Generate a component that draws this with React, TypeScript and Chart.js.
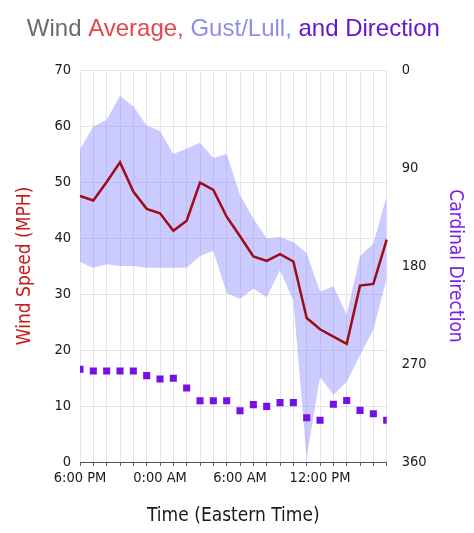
import React, { useEffect, useRef } from 'react';
import { Chart, registerables } from 'chart.js';

Chart.register(...registerables);

const hourLabels = [
  '6:00 PM', '7:00 PM', '8:00 PM', '9:00 PM', '10:00 PM', '11:00 PM',
  '0:00 AM', '1:00 AM', '2:00 AM', '3:00 AM', '4:00 AM', '5:00 AM',
  '6:00 AM', '7:00 AM', '8:00 AM', '9:00 AM', '10:00 AM', '11:00 AM',
  '12:00 PM', '1:00 PM', '2:00 PM', '3:00 PM', '4:00 PM', '5:00 PM',
];

const avgSpeed = [47.5, 46.7, 50.0, 53.5, 48.3, 45.2, 44.4, 41.3, 43.1, 49.9, 48.6, 43.8,
  40.3, 36.7, 35.9, 37.1, 35.8, 25.7, 23.7, 22.4, 21.1, 31.5, 31.8, 39.7];

const gustSpeed = [55.8, 59.9, 61.1, 65.4, 63.5, 60.1, 59.1, 55.0, 56.0, 57.0, 54.3, 55.0,
  47.7, 43.5, 39.9, 40.2, 39.3, 37.3, 30.4, 31.4, 26.3, 36.8, 39.0, 47.5];

const lullSpeed = [35.7, 34.7, 35.3, 35.0, 35.0, 34.7, 34.7, 34.7, 34.7, 36.8, 37.7, 30.2,
  29.1, 31.0, 29.4, 34.3, 28.8, 0.7, 15.2, 12.0, 14.3, 19.1, 23.6, 32.8];

const direction = [274.9, 276.4, 276.4, 276.4, 276.4, 280.7, 283.8, 283.1, 292.0, 303.7, 303.7, 303.7,
  312.9, 307.3, 308.9, 305.5, 305.5, 319.3, 321.6, 306.9, 303.5, 312.6, 315.7, 321.6];

const titleParts = [
  { text: 'Wind ', color: '#6b6b6b' },
  { text: 'Average, ', color: '#e2474b' },
  { text: 'Gust/Lull, ', color: '#8e8ee8' },
  { text: 'and Direction', color: '#6516d4' },
];

const axisFont = "'DejaVu Sans Condensed', 'DejaVu Sans', Verdana, sans-serif";

const multiTitlePlugin = {
  id: 'multiTitle',
  afterDraw(chart: any) {
    const ctx = chart.ctx;
    const area = chart.chartArea;
    ctx.save();
    ctx.font = "24px 'Liberation Sans', Arial, sans-serif";
    ctx.textBaseline = 'alphabetic';
    ctx.textAlign = 'left';
    const total = titleParts.reduce((s, p) => s + ctx.measureText(p.text).width, 0);
    let x = (area.left + area.right) / 2 - total / 2;
    for (const p of titleParts) {
      ctx.fillStyle = p.color;
      ctx.fillText(p.text, x, 36);
      x += ctx.measureText(p.text).width;
    }
    ctx.restore();
  },
};

export default function App() {
  const canvasRef = useRef<HTMLCanvasElement | null>(null);

  useEffect(() => {
    if (!canvasRef.current) return;
    const chart = new Chart(canvasRef.current, {
      type: 'line',
      data: {
        labels: hourLabels,
        datasets: [
          {
            label: 'Average',
            data: avgSpeed,
            yAxisID: 'y',
            borderColor: '#9e0c16',
            borderWidth: 2.5,
            pointRadius: 0,
            fill: false,
            tension: 0,
          },
          {
            label: 'Direction',
            data: direction,
            yAxisID: 'y2',
            showLine: false,
            pointStyle: 'rect',
            pointRadius: 5,
            pointBackgroundColor: '#7710e4',
            pointBorderColor: '#7710e4',
            pointBorderWidth: 0,
            clip: 0,
          },
          {
            label: 'Gust',
            data: gustSpeed,
            yAxisID: 'y',
            borderWidth: 0,
            pointRadius: 0,
            backgroundColor: 'rgba(140,140,255,0.45)',
            fill: '+1',
            tension: 0,
          },
          {
            label: 'Lull',
            data: lullSpeed,
            yAxisID: 'y',
            borderWidth: 0,
            pointRadius: 0,
            fill: false,
            tension: 0,
          },
        ],
      },
      options: {
        responsive: false,
        animation: false,
        layout: { padding: { top: 70, left: 0, right: 0, bottom: 0 } },
        plugins: {
          legend: { display: false },
          title: { display: false },
          tooltip: { enabled: false },
        },
        scales: {
          x: {
            type: 'category',
            offset: false,
            afterFit: (scale: any) => { scale.height = 71; },
            grid: {
              color: '#e4e4ea',
              tickLength: 4,
              tickColor: '#666',
            },
            border: { display: true, color: '#555', width: 1 },
            ticks: {
              autoSkip: false,
              maxRotation: 0,
              padding: 4,
              color: '#1a1a1a',
              font: { family: axisFont, size: 14.5 },
              callback: (_v: any, i: number) => (i % 6 === 0 ? hourLabels[i] : ''),
            },
            title: {
              display: true,
              text: 'Time (Eastern Time)',
              color: '#1a1a1a',
              font: { family: axisFont, size: 19 },
              padding: { top: 0, bottom: 6 },
            },
          },
          y: {
            position: 'left',
            min: 0,
            max: 70,
            afterFit: (scale: any) => { scale.width = 80; },
            grid: { color: '#e4e4ea', drawTicks: false },
            border: { display: false },
            ticks: {
              stepSize: 10,
              padding: 9,
              color: '#1a1a1a',
              font: { family: axisFont, size: 14.5 },
            },
            title: {
              display: true,
              text: 'Wind Speed (MPH)',
              color: '#cc1b1b',
              font: { family: axisFont, size: 19 },
              padding: { top: 14, bottom: 0 },
            },
          },
          y2: {
            position: 'right',
            min: 0,
            max: 360,
            reverse: true,
            afterFit: (scale: any) => { scale.width = 474 - 386.7; },
            grid: { display: false, drawTicks: false },
            border: { display: false },
            ticks: {
              stepSize: 90,
              padding: 15,
              color: '#1a1a1a',
              font: { family: axisFont, size: 14.5 },
            },
            title: {
              display: true,
              text: 'Cardinal Direction',
              color: '#7a1fe6',
              font: { family: axisFont, size: 19 },
              padding: { top: 8, bottom: 0 },
            },
          },
        },
      } as any,
      plugins: [multiTitlePlugin],
    });
    return () => chart.destroy();
  }, []);

  return (
    <div style={{ position: 'fixed', left: 0, top: 0, width: 474, height: 533, background: '#fff' }}>
      <canvas ref={canvasRef} width={474} height={533} style={{ display: 'block' }} />
    </div>
  );
}
